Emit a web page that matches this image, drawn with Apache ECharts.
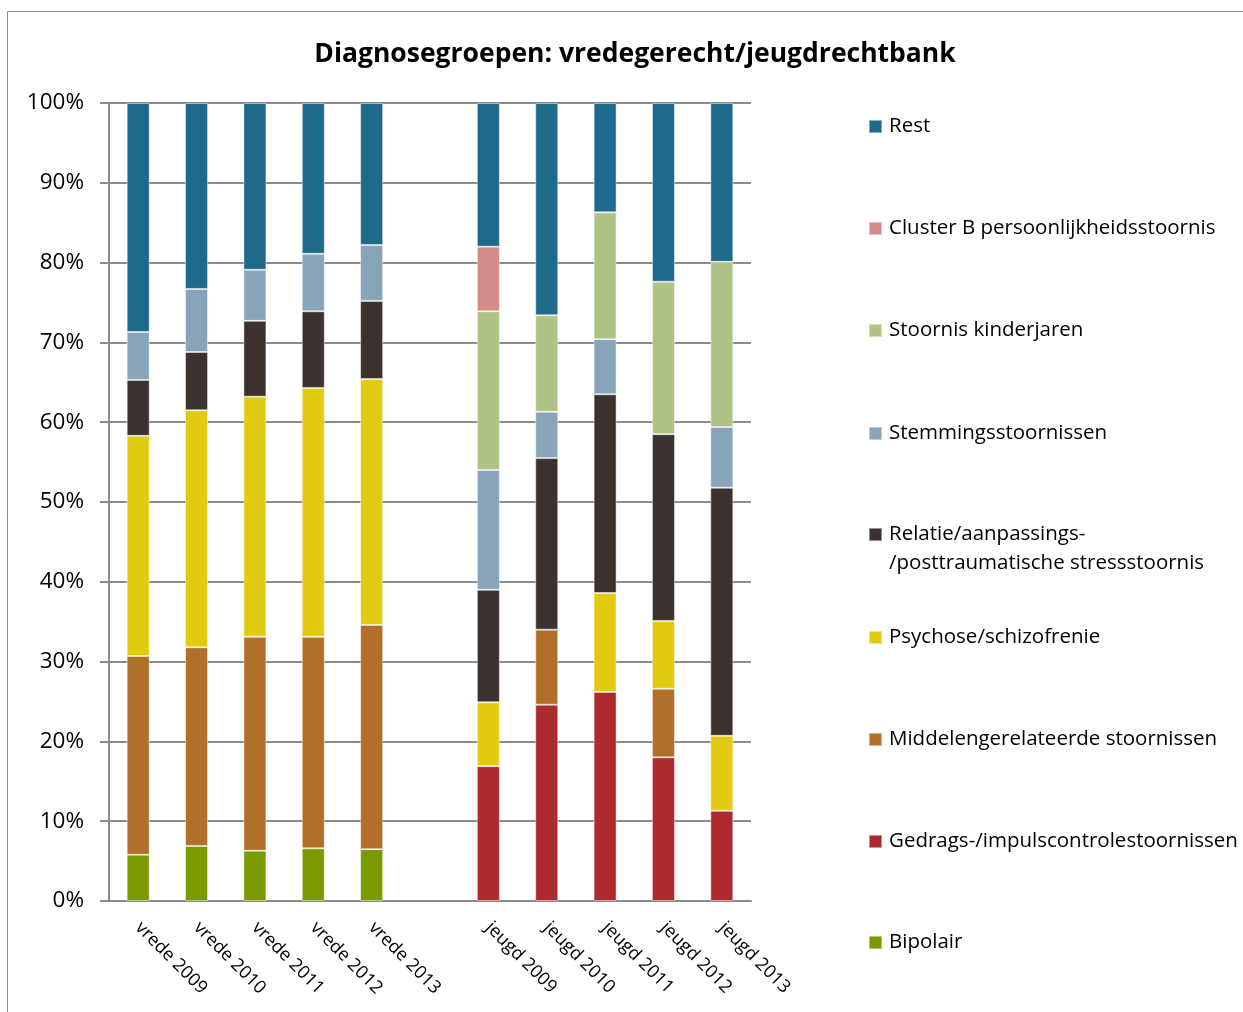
<!DOCTYPE html>
<html>
<head>
<meta charset="utf-8">
<script src="https://cdn.jsdelivr.net/npm/echarts@6/dist/echarts.min.js"></script>
<style>
  html, body { margin: 0; padding: 0; background: #fff; }
  #chart { width: 1243px; height: 1012px; }
</style>
</head>
<body>
<div id="chart"></div>
<script>
// categorieën (lege kolom tussen vrede en jeugd)
const categories = ['vrede 2009', 'vrede 2010', 'vrede 2011', 'vrede 2012', 'vrede 2013', '',
  'jeugd 2009', 'jeugd 2010', 'jeugd 2011', 'jeugd 2012', 'jeugd 2013'];

// percentages per diagnosegroep (onder naar boven gestapeld)
const bipolair     = [5.8, 6.9, 6.3, 6.6, 6.5, null, null, null, null, null, null];
const gedrags      = [null, null, null, null, null, null, 16.9, 24.6, 26.2, 18.0, 11.3];
const middelen     = [24.9, 24.9, 26.8, 26.5, 28.1, null, null, 9.4, null, 8.6, null];
const psychose     = [27.6, 29.7, 30.1, 31.2, 30.8, null, 8.0, null, 12.4, 8.5, 9.4];
const relatie      = [7.0, 7.3, 9.5, 9.6, 9.8, null, 14.1, 21.5, 24.9, 23.4, 31.1];
const stemming     = [6.0, 7.9, 6.4, 7.2, 7.0, null, 15.0, 5.8, 6.9, null, 7.6];
const kinderjaren  = [null, null, null, null, null, null, 19.9, 12.1, 15.9, 19.1, 20.7];
const clusterB     = [null, null, null, null, null, null, 8.1, null, null, null, null];
const rest         = [28.7, 23.3, 20.9, 18.9, 17.8, null, 18.0, 26.6, 13.7, 22.4, 19.9];

const yTicks = [0, 10, 20, 30, 40, 50, 60, 70, 80, 90, 100];

const FONT = '"Open Sans", sans-serif';

const seriesDefs = [
  { name: 'Bipolair', data: bipolair, color: '#7b9a00' },
  { name: 'Gedrags-/impulscontrolestoornissen', data: gedrags, color: '#ad2a2e' },
  { name: 'Middelengerelateerde stoornissen', data: middelen, color: '#b0702a' },
  { name: 'Psychose/schizofrenie', data: psychose, color: '#e0cb10' },
  { name: 'Relatie/aanpassings-', data: relatie, color: '#3b3230' },
  { name: 'Stemmingsstoornissen', data: stemming, color: '#87a4b9' },
  { name: 'Stoornis kinderjaren', data: kinderjaren, color: '#afc484' },
  { name: 'Cluster B persoonlijkheidsstoornis', data: clusterB, color: '#d48a88' },
  { name: 'Rest', data: rest, color: '#1f6a8a' }
];

// legenda rechts, midden van elk item
const legendY = {
  'Rest': 125,
  'Cluster B persoonlijkheidsstoornis': 227,
  'Stoornis kinderjaren': 329,
  'Stemmingsstoornissen': 432,
  'Relatie/aanpassings-': 533,
  'Psychose/schizofrenie': 636,
  'Middelengerelateerde stoornissen': 738,
  'Gedrags-/impulscontrolestoornissen': 840,
  'Bipolair': 941
};

const chart = echarts.init(document.getElementById('chart'));

chart.setOption({
  backgroundColor: '#fff',
  animation: false,
  title: {
    text: 'Diagnosegroepen: vredegerecht/jeugdrechtbank',
    left: 630,
    textAlign: 'center',
    top: 36,
    textStyle: { fontFamily: FONT, fontSize: 26.5, fontWeight: 'bold', color: '#000' }
  },
  legend: seriesDefs.map(s => ({
    data: [s.name],
    orient: 'vertical',
    left: 868,
    top: legendY[s.name] - 9,
    padding: 0,
    itemWidth: 13,
    itemHeight: 13,
    icon: 'rect',
    selectedMode: false,
    textStyle: { fontFamily: FONT, fontSize: 20.5, color: '#000', padding: [0, 0, 0, 2] }
  })),
  graphic: [
    {
      type: 'rect',
      shape: { x: 7.5, y: 11.5, width: 1250, height: 1010 },
      style: { fill: 'none', stroke: '#8c8c8c', lineWidth: 1 },
      silent: true
    },
    {
      type: 'text',
      left: 889,
      top: 553,
      style: { text: '/posttraumatische stressstoornis', font: '20.5px ' + FONT, fill: '#000' }
    }
  ],
  grid: { left: 109, right: 492, top: 103, bottom: 111 },
  xAxis: {
    type: 'category',
    data: categories,
    axisLine: { lineStyle: { color: '#8c8c8c', width: 2 } },
    axisTick: { show: false },
    axisLabel: {
      rotate: -45,
      interval: 0,
      margin: 24,
      fontFamily: FONT,
      fontSize: 18,
      color: '#000'
    }
  },
  yAxis: {
    type: 'value',
    min: yTicks[0],
    max: yTicks[yTicks.length - 1],
    interval: 10,
    axisLine: { show: true, lineStyle: { color: '#8c8c8c', width: 2 } },
    axisTick: { show: true, length: 9, lineStyle: { color: '#8c8c8c', width: 2 } },
    axisLabel: {
      formatter: '{value}%',
      fontFamily: FONT,
      fontSize: 22.5,
      color: '#000',
      margin: 25,
      padding: [5, 0, 0, 0]
    },
    splitLine: { lineStyle: { color: '#8c8c8c', width: 2 } }
  },
  series: seriesDefs.map(s => ({
    name: s.name,
    type: 'bar',
    stack: 'totaal',
    barWidth: 23,
    data: s.data,
    itemStyle: { color: s.color, borderColor: 'rgba(255,255,255,0.45)', borderWidth: 1 }
  }))
});
</script>
</body>
</html>
